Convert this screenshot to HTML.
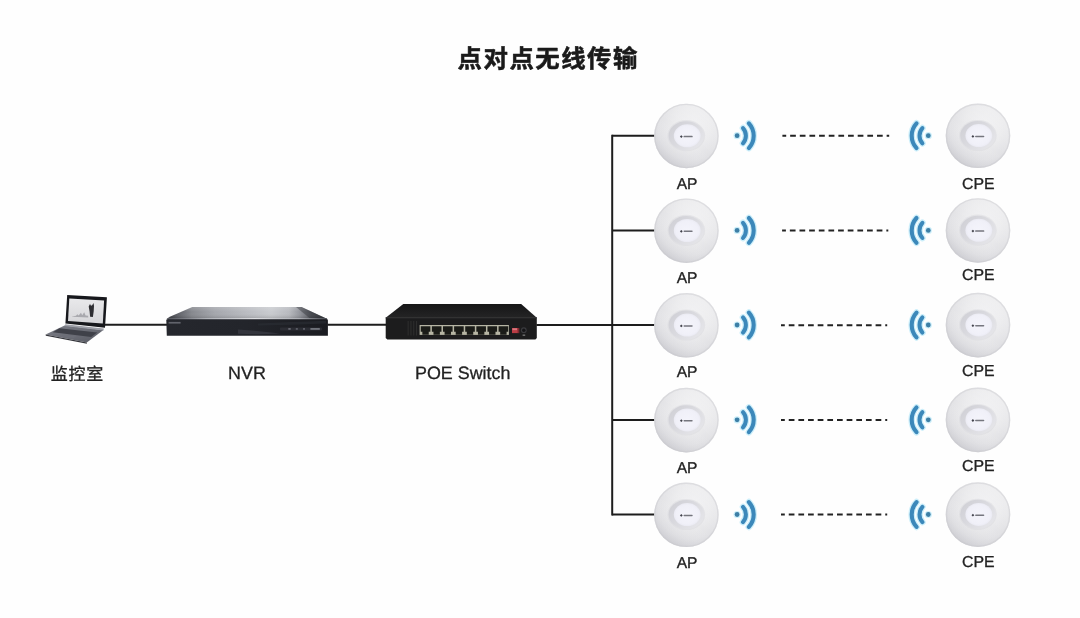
<!DOCTYPE html>
<html lang="zh-CN">
<head>
<meta charset="utf-8">
<title>点对点无线传输</title>
<style>
  html, body { margin: 0; padding: 0; background: #fefefe; }
  body { width: 1080px; height: 618px; overflow: hidden; position: relative;
         font-family: "Liberation Sans", "Noto Sans CJK SC", sans-serif; }
  svg { position: absolute; left: 0; top: 0; display: block; filter: blur(0.45px); }
  .t { font-family: "Liberation Sans", "Noto Sans CJK SC", sans-serif; fill: #222222; stroke: #222222; stroke-width: 0.3px; text-rendering: geometricPrecision; }
  .title { font-family: "Liberation Sans", "Noto Sans CJK SC", sans-serif; font-weight: 700; fill: #1a1a1a; stroke: #1a1a1a; stroke-width: 0.55px; stroke-linejoin: round; }
</style>
</head>
<body>
<svg width="1080" height="618" viewBox="0 0 1080 618">
  <defs>
    <radialGradient id="gDisc" cx="0.56" cy="0.38" r="0.66">
      <stop offset="0" stop-color="#f1f1f3"/>
      <stop offset="0.45" stop-color="#eaeaec"/>
      <stop offset="0.75" stop-color="#e2e2e5"/>
      <stop offset="0.92" stop-color="#d8d8dc"/>
      <stop offset="1" stop-color="#cdcdd2"/>
    </radialGradient>
    <linearGradient id="gDiscShade" x1="0.85" y1="0.1" x2="0.2" y2="0.95">
      <stop offset="0" stop-color="#ffffff" stop-opacity="0.3"/>
      <stop offset="0.5" stop-color="#ffffff" stop-opacity="0"/>
      <stop offset="1" stop-color="#b4b4bc" stop-opacity="0.3"/>
    </linearGradient>
    <linearGradient id="gRing" x1="0.05" y1="0.15" x2="0.95" y2="0.85">
      <stop offset="0" stop-color="#d0d0d6"/>
      <stop offset="0.5" stop-color="#dbdbe0"/>
      <stop offset="1" stop-color="#e6e6ea"/>
    </linearGradient>
    <radialGradient id="gCore" cx="0.5" cy="0.5" r="0.6">
      <stop offset="0" stop-color="#f4f4fb"/>
      <stop offset="0.7" stop-color="#f0f0f8"/>
      <stop offset="1" stop-color="#e3e3ec"/>
    </radialGradient>
    <linearGradient id="gNvrTop" gradientUnits="userSpaceOnUse" x1="166" y1="0" x2="328" y2="0">
      <stop offset="0" stop-color="#34363c"/>
      <stop offset="0.07" stop-color="#5c5e65"/>
      <stop offset="0.16" stop-color="#86888e"/>
      <stop offset="0.3" stop-color="#a4a6ac"/>
      <stop offset="0.5" stop-color="#babcc1"/>
      <stop offset="0.65" stop-color="#c9cbcf"/>
      <stop offset="0.76" stop-color="#b8babf"/>
      <stop offset="0.83" stop-color="#909299"/>
      <stop offset="0.9" stop-color="#585a61"/>
      <stop offset="1" stop-color="#2a2c32"/>
    </linearGradient>
    <linearGradient id="gNvrTopV" gradientUnits="userSpaceOnUse" x1="0" y1="307" x2="0" y2="318.5">
      <stop offset="0" stop-color="#ffffff" stop-opacity="0.16"/>
      <stop offset="0.45" stop-color="#ffffff" stop-opacity="0"/>
      <stop offset="1" stop-color="#000000" stop-opacity="0.16"/>
    </linearGradient>
    <linearGradient id="gNvrEdge" gradientUnits="userSpaceOnUse" x1="166" y1="0" x2="328" y2="0">
      <stop offset="0" stop-color="#50525a"/>
      <stop offset="0.25" stop-color="#b0b2b8"/>
      <stop offset="0.55" stop-color="#dcdde0"/>
      <stop offset="0.82" stop-color="#aeb0b6"/>
      <stop offset="1" stop-color="#44464d"/>
    </linearGradient>
    <linearGradient id="gNvrFront" x1="0" y1="0" x2="1" y2="0">
      <stop offset="0" stop-color="#25272d"/>
      <stop offset="0.5" stop-color="#23252b"/>
      <stop offset="1" stop-color="#1a1b20"/>
    </linearGradient>
    <linearGradient id="gSwTop" x1="0" y1="0" x2="0" y2="1">
      <stop offset="0" stop-color="#161617"/>
      <stop offset="1" stop-color="#242425"/>
    </linearGradient>
    <linearGradient id="gKb" x1="0" y1="0" x2="1" y2="1">
      <stop offset="0" stop-color="#7e8089"/>
      <stop offset="1" stop-color="#585a63"/>
    </linearGradient>
    <linearGradient id="gScreen" x1="0" y1="0" x2="0" y2="1">
      <stop offset="0" stop-color="#e9e9eb"/>
      <stop offset="1" stop-color="#d6d6d9"/>
    </linearGradient>
  </defs>

  <text class="title" x="457.6" y="67.4" font-size="24.4" letter-spacing="1.5">点对点无线传输</text>

  <g stroke="#1d1d1d" stroke-width="2" fill="none" stroke-linecap="butt">
    <path d="M104.6 324.8 H167"/>
    <path d="M327.4 324.8 H386.4"/>
    <path d="M536.4 325.1 H612.2"/>
    <path d="M612.2 134.8 V515.6"/>
    <path d="M612.2 135.8 H655"/>
    <path d="M612.2 230.5 H655"/>
    <path d="M612.2 325.1 H655"/>
    <path d="M612.2 419.9 H655"/>
    <path d="M612.2 514.6 H655"/>
  </g>
  <g stroke="#222222" stroke-width="2" fill="none" stroke-dasharray="5.7 3.95" stroke-dashoffset="1.9">
    <path d="M782.4 135.7 H889.2"/>
    <path d="M782.1 230.4 H888.3"/>
    <path d="M781.0 325.2 H887.2"/>
    <path d="M781.0 419.9 H887.2"/>
    <path d="M781.0 514.6 H887.2"/>
  </g>

  <g id="laptop">
    <!-- base -->
    <polygon points="64.6,325.4 103.4,330 86.8,342.5 45.6,334.6" fill="url(#gKb)"/>
    <polygon points="45.6,334.6 86.8,342.5 86.9,343.7 45.8,335.7" fill="#33343a"/>
    <polygon points="59.4,328.2 97.2,332.6 91.2,337 52.8,332.2" fill="#3f4149"/>
    <polygon points="63,334.6 76,336.2 73.6,338 60.4,336.3" fill="#6c6e77"/>
    <!-- lid -->
    <polygon points="67.2,295 106.9,297.2 105,327.8 65.4,323.6" fill="#17181c"/>
    <polygon points="69.3,298.5 104.1,300.4 102.8,323.4 68,320.9" fill="url(#gScreen)"/>
    <!-- hinge strip -->
    <polygon points="65.3,324.2 103.9,328.6 103.4,330.5 64.6,325.9" fill="#9d9fa7"/>
    <path d="M88.7 306.4 l1.3 -2.4 l1 1.8 l1.2 -0.6 l1.3 -2.2 l0.5 3 l-0.3 5.2 l-0.8 5.8 l-2.8 -0.2 l-0.5 -5.4 z" fill="#2e2e32"/>
    <path d="M72 316.4 l4 -0.6 l1.4 -1.6 l1.2 1.2 l2.4 -2.6 l1.2 2.4 l2 -3 l1.4 3.2 l2.6 0.4 v1.8 l-16.2 -0.9 z" fill="#a9a9ae"/>
  </g>

  <g id="nvr">
    <path d="M192.3 307 H301.6 L327.9 319.2 H166.3 Q168 317.6 171 316.2 Z" fill="url(#gNvrTop)"/>
    <path d="M192.3 307 H301.6 L327.9 319.2 H166.3 Q168 317.6 171 316.2 Z" fill="url(#gNvrTopV)"/>
    <polygon points="296,307 301.6,307 327.9,319.2 311,319.2" fill="#2b2d33" opacity="0.4"/>
    <path d="M166.3 320.6 Q166.3 319 168 319 H326.4 Q327.9 319 327.9 320.6 V335.8 H166.8 Z" fill="url(#gNvrFront)"/>
    <path d="M168 318.7 H326.6" stroke="url(#gNvrEdge)" stroke-width="1.3" fill="none"/>
    <path d="M238 329.4 Q262 331.2 280 333.6 Q258 334.8 238 333.8 Z" fill="#383a42" opacity="0.8"/>
    <path d="M258 323.4 Q290 322.2 326 320.8 V323.4 Q292 324.8 258 325.6 Z" fill="#2c2e35" opacity="0.6"/>
    <rect x="280" y="327.4" width="42" height="3.2" rx="1" fill="#2f3138" opacity="0.8"/>
    <rect x="288.3" y="328.4" width="2.4" height="1.1" fill="#8c8e97"/>
    <rect x="295.8" y="328.4" width="2" height="1.1" fill="#787a84"/>
    <rect x="303" y="328.4" width="2" height="1.1" fill="#787a84"/>
    <rect x="310.4" y="328.3" width="9.4" height="1.3" fill="#8e9099"/>
    <rect x="168.6" y="321.9" width="12" height="1.7" fill="#6c6e77" opacity="0.85"/>
  </g>

  <g id="switch">
    <polygon points="403.3,304.1 521.2,304.1 536.8,317.8 385.7,317.8" fill="url(#gSwTop)"/>
    <path d="M385.7 317.5 H536.8 V338 L535.4 339.4 H387.3 L385.7 338 Z" fill="#1c1c1d"/>
    <rect x="385.7" y="317.3" width="151.1" height="1.1" fill="#2f2f30"/>
    <rect x="419.6" y="325" width="89.3" height="9.9" fill="#b6b5a4"/>
    <path d="M420.75 326.3 h9.6 v5.4 h-1.6 v3 h-6.4 v-3 h-1.6 z" fill="#1b1c18"/><path d="M431.87 326.3 h9.6 v5.4 h-1.6 v3 h-6.4 v-3 h-1.6 z" fill="#1b1c18"/><path d="M442.99 326.3 h9.6 v5.4 h-1.6 v3 h-6.4 v-3 h-1.6 z" fill="#1b1c18"/><path d="M454.11 326.3 h9.6 v5.4 h-1.6 v3 h-6.4 v-3 h-1.6 z" fill="#1b1c18"/><path d="M465.23 326.3 h9.6 v5.4 h-1.6 v3 h-6.4 v-3 h-1.6 z" fill="#1b1c18"/><path d="M476.35 326.3 h9.6 v5.4 h-1.6 v3 h-6.4 v-3 h-1.6 z" fill="#1b1c18"/><path d="M487.47 326.3 h9.6 v5.4 h-1.6 v3 h-6.4 v-3 h-1.6 z" fill="#1b1c18"/><path d="M498.59 326.3 h9.6 v5.4 h-1.6 v3 h-6.4 v-3 h-1.6 z" fill="#1b1c18"/>
    <g fill="#2d2d2d">
      <rect x="407.6" y="321" width="1.1" height="14.5"/>
      <rect x="410.4" y="321" width="1.1" height="14.5"/>
      <rect x="413.2" y="321" width="1.1" height="14.5"/>
      <rect x="416" y="321" width="1.1" height="14.5"/>
    </g>
    <rect x="512" y="328" width="7.4" height="5.2" fill="#7e2a30"/>
    <rect x="512" y="328" width="5.6" height="5" fill="#bb3d45"/>
    <rect x="512.4" y="328.3" width="4.6" height="1.8" fill="#d9777e"/>
    <circle cx="523.8" cy="330.2" r="2.9" fill="#3a3a3e"/>
    <circle cx="523.8" cy="330.2" r="1.7" fill="#141416"/>
    <rect x="522.6" y="334.6" width="2.6" height="1.1" fill="#8c8c8c"/>
  </g>

  <text class="t" x="50.7" y="380.3" font-size="17" letter-spacing="0.75">监控室</text>
  <text class="t" x="228.1" y="378.8" font-size="17.9">NVR</text>
  <text class="t" x="415" y="378.8" font-size="17.9">POE Switch</text>

  <g transform="translate(686.4,136.0)">
    <circle r="32.3" fill="url(#gDisc)"/>
    <circle r="32.3" fill="url(#gDiscShade)"/>
    <circle r="31.6" fill="none" stroke="#c9c9ce" stroke-width="1.4" opacity="0.45"/>
    <ellipse cx="-0.1" cy="-0.3" rx="18.8" ry="15.6" fill="#dadade" opacity="0.55"/>
    <ellipse cx="-0.1" cy="-0.3" rx="17.7" ry="14.5" fill="url(#gRing)"/>
    <ellipse cx="0.8" cy="-0.2" rx="13.4" ry="11.5" fill="url(#gCore)"/>
    <path d="M-6.5 0.6 l1.4 -1.4 l1.4 1.4 l-1.4 1.4 z" fill="#2e2f37" opacity="0.9"/>
    <rect x="-2.9" y="-0.15" width="9.2" height="1.5" rx="0.7" fill="#3f4049" opacity="0.7"/>
  </g>
  <g transform="translate(737.1,135.70000000000002)" fill="none" stroke="#3c88ba" stroke-linecap="round">
    <g stroke="#c4ecf9" opacity="0.85">
      <circle r="3.6" fill="#c4ecf9" stroke="none"/>
      <path d="M5.88 -7.6 A 11.35 11.35 0 0 1 5.88 7.6" stroke-width="6.6"/>
      <path d="M11.78 -12.4 A 18.4 18.4 0 0 1 11.78 12.4" stroke-width="6.6"/>
    </g>
    <circle r="2.4" fill="#3d7fa6" stroke="none"/>
    <path d="M5.88 -7.6 A 11.35 11.35 0 0 1 5.88 7.6" stroke-width="4"/>
    <path d="M11.78 -12.4 A 18.4 18.4 0 0 1 11.78 12.4" stroke-width="4.1"/>
  </g>
  <g transform="translate(928.3,135.70000000000002) scale(-1,1)" fill="none" stroke="#3c88ba" stroke-linecap="round">
    <g stroke="#c4ecf9" opacity="0.85">
      <circle r="3.6" fill="#c4ecf9" stroke="none"/>
      <path d="M5.88 -7.6 A 11.35 11.35 0 0 1 5.88 7.6" stroke-width="6.6"/>
      <path d="M11.78 -12.4 A 18.4 18.4 0 0 1 11.78 12.4" stroke-width="6.6"/>
    </g>
    <circle r="2.4" fill="#3d7fa6" stroke="none"/>
    <path d="M5.88 -7.6 A 11.35 11.35 0 0 1 5.88 7.6" stroke-width="4"/>
    <path d="M11.78 -12.4 A 18.4 18.4 0 0 1 11.78 12.4" stroke-width="4.1"/>
  </g>
  <g transform="translate(978,135.8)">
    <circle r="32.3" fill="url(#gDisc)"/>
    <circle r="32.3" fill="url(#gDiscShade)"/>
    <circle r="31.6" fill="none" stroke="#c9c9ce" stroke-width="1.4" opacity="0.45"/>
    <ellipse cx="-0.1" cy="-0.3" rx="18.8" ry="15.6" fill="#dadade" opacity="0.55"/>
    <ellipse cx="-0.1" cy="-0.3" rx="17.7" ry="14.5" fill="url(#gRing)"/>
    <ellipse cx="0.8" cy="-0.2" rx="13.4" ry="11.5" fill="url(#gCore)"/>
    <path d="M-6.5 0.6 l1.4 -1.4 l1.4 1.4 l-1.4 1.4 z" fill="#2e2f37" opacity="0.9"/>
    <rect x="-2.9" y="-0.15" width="9.2" height="1.5" rx="0.7" fill="#3f4049" opacity="0.7"/>
  </g>
  <text class="t" x="676.7" y="189.2" font-size="15.6">AP</text>
  <text class="t" x="962.1" y="189.0" font-size="15.85">CPE</text>
  <g transform="translate(686.4,230.7)">
    <circle r="32.3" fill="url(#gDisc)"/>
    <circle r="32.3" fill="url(#gDiscShade)"/>
    <circle r="31.6" fill="none" stroke="#c9c9ce" stroke-width="1.4" opacity="0.45"/>
    <ellipse cx="-0.1" cy="-0.3" rx="18.8" ry="15.6" fill="#dadade" opacity="0.55"/>
    <ellipse cx="-0.1" cy="-0.3" rx="17.7" ry="14.5" fill="url(#gRing)"/>
    <ellipse cx="0.8" cy="-0.2" rx="13.4" ry="11.5" fill="url(#gCore)"/>
    <path d="M-6.5 0.6 l1.4 -1.4 l1.4 1.4 l-1.4 1.4 z" fill="#2e2f37" opacity="0.9"/>
    <rect x="-2.9" y="-0.15" width="9.2" height="1.5" rx="0.7" fill="#3f4049" opacity="0.7"/>
  </g>
  <g transform="translate(737.1,230.4)" fill="none" stroke="#3c88ba" stroke-linecap="round">
    <g stroke="#c4ecf9" opacity="0.85">
      <circle r="3.6" fill="#c4ecf9" stroke="none"/>
      <path d="M5.88 -7.6 A 11.35 11.35 0 0 1 5.88 7.6" stroke-width="6.6"/>
      <path d="M11.78 -12.4 A 18.4 18.4 0 0 1 11.78 12.4" stroke-width="6.6"/>
    </g>
    <circle r="2.4" fill="#3d7fa6" stroke="none"/>
    <path d="M5.88 -7.6 A 11.35 11.35 0 0 1 5.88 7.6" stroke-width="4"/>
    <path d="M11.78 -12.4 A 18.4 18.4 0 0 1 11.78 12.4" stroke-width="4.1"/>
  </g>
  <g transform="translate(928.3,230.4) scale(-1,1)" fill="none" stroke="#3c88ba" stroke-linecap="round">
    <g stroke="#c4ecf9" opacity="0.85">
      <circle r="3.6" fill="#c4ecf9" stroke="none"/>
      <path d="M5.88 -7.6 A 11.35 11.35 0 0 1 5.88 7.6" stroke-width="6.6"/>
      <path d="M11.78 -12.4 A 18.4 18.4 0 0 1 11.78 12.4" stroke-width="6.6"/>
    </g>
    <circle r="2.4" fill="#3d7fa6" stroke="none"/>
    <path d="M5.88 -7.6 A 11.35 11.35 0 0 1 5.88 7.6" stroke-width="4"/>
    <path d="M11.78 -12.4 A 18.4 18.4 0 0 1 11.78 12.4" stroke-width="4.1"/>
  </g>
  <g transform="translate(978,230.5)">
    <circle r="32.3" fill="url(#gDisc)"/>
    <circle r="32.3" fill="url(#gDiscShade)"/>
    <circle r="31.6" fill="none" stroke="#c9c9ce" stroke-width="1.4" opacity="0.45"/>
    <ellipse cx="-0.1" cy="-0.3" rx="18.8" ry="15.6" fill="#dadade" opacity="0.55"/>
    <ellipse cx="-0.1" cy="-0.3" rx="17.7" ry="14.5" fill="url(#gRing)"/>
    <ellipse cx="0.8" cy="-0.2" rx="13.4" ry="11.5" fill="url(#gCore)"/>
    <path d="M-6.5 0.6 l1.4 -1.4 l1.4 1.4 l-1.4 1.4 z" fill="#2e2f37" opacity="0.9"/>
    <rect x="-2.9" y="-0.15" width="9.2" height="1.5" rx="0.7" fill="#3f4049" opacity="0.7"/>
  </g>
  <text class="t" x="676.7" y="282.9" font-size="15.6">AP</text>
  <text class="t" x="962.1" y="279.5" font-size="15.85">CPE</text>
  <g transform="translate(686.4,325.3)">
    <circle r="32.3" fill="url(#gDisc)"/>
    <circle r="32.3" fill="url(#gDiscShade)"/>
    <circle r="31.6" fill="none" stroke="#c9c9ce" stroke-width="1.4" opacity="0.45"/>
    <ellipse cx="-0.1" cy="-0.3" rx="18.8" ry="15.6" fill="#dadade" opacity="0.55"/>
    <ellipse cx="-0.1" cy="-0.3" rx="17.7" ry="14.5" fill="url(#gRing)"/>
    <ellipse cx="0.8" cy="-0.2" rx="13.4" ry="11.5" fill="url(#gCore)"/>
    <path d="M-6.5 0.6 l1.4 -1.4 l1.4 1.4 l-1.4 1.4 z" fill="#2e2f37" opacity="0.9"/>
    <rect x="-2.9" y="-0.15" width="9.2" height="1.5" rx="0.7" fill="#3f4049" opacity="0.7"/>
  </g>
  <g transform="translate(737.1,325.0)" fill="none" stroke="#3c88ba" stroke-linecap="round">
    <g stroke="#c4ecf9" opacity="0.85">
      <circle r="3.6" fill="#c4ecf9" stroke="none"/>
      <path d="M5.88 -7.6 A 11.35 11.35 0 0 1 5.88 7.6" stroke-width="6.6"/>
      <path d="M11.78 -12.4 A 18.4 18.4 0 0 1 11.78 12.4" stroke-width="6.6"/>
    </g>
    <circle r="2.4" fill="#3d7fa6" stroke="none"/>
    <path d="M5.88 -7.6 A 11.35 11.35 0 0 1 5.88 7.6" stroke-width="4"/>
    <path d="M11.78 -12.4 A 18.4 18.4 0 0 1 11.78 12.4" stroke-width="4.1"/>
  </g>
  <g transform="translate(928.3,325.0) scale(-1,1)" fill="none" stroke="#3c88ba" stroke-linecap="round">
    <g stroke="#c4ecf9" opacity="0.85">
      <circle r="3.6" fill="#c4ecf9" stroke="none"/>
      <path d="M5.88 -7.6 A 11.35 11.35 0 0 1 5.88 7.6" stroke-width="6.6"/>
      <path d="M11.78 -12.4 A 18.4 18.4 0 0 1 11.78 12.4" stroke-width="6.6"/>
    </g>
    <circle r="2.4" fill="#3d7fa6" stroke="none"/>
    <path d="M5.88 -7.6 A 11.35 11.35 0 0 1 5.88 7.6" stroke-width="4"/>
    <path d="M11.78 -12.4 A 18.4 18.4 0 0 1 11.78 12.4" stroke-width="4.1"/>
  </g>
  <g transform="translate(978,325.1)">
    <circle r="32.3" fill="url(#gDisc)"/>
    <circle r="32.3" fill="url(#gDiscShade)"/>
    <circle r="31.6" fill="none" stroke="#c9c9ce" stroke-width="1.4" opacity="0.45"/>
    <ellipse cx="-0.1" cy="-0.3" rx="18.8" ry="15.6" fill="#dadade" opacity="0.55"/>
    <ellipse cx="-0.1" cy="-0.3" rx="17.7" ry="14.5" fill="url(#gRing)"/>
    <ellipse cx="0.8" cy="-0.2" rx="13.4" ry="11.5" fill="url(#gCore)"/>
    <path d="M-6.5 0.6 l1.4 -1.4 l1.4 1.4 l-1.4 1.4 z" fill="#2e2f37" opacity="0.9"/>
    <rect x="-2.9" y="-0.15" width="9.2" height="1.5" rx="0.7" fill="#3f4049" opacity="0.7"/>
  </g>
  <text class="t" x="676.7" y="377.3" font-size="15.6">AP</text>
  <text class="t" x="962.1" y="375.9" font-size="15.85">CPE</text>
  <g transform="translate(686.4,420.09999999999997)">
    <circle r="32.3" fill="url(#gDisc)"/>
    <circle r="32.3" fill="url(#gDiscShade)"/>
    <circle r="31.6" fill="none" stroke="#c9c9ce" stroke-width="1.4" opacity="0.45"/>
    <ellipse cx="-0.1" cy="-0.3" rx="18.8" ry="15.6" fill="#dadade" opacity="0.55"/>
    <ellipse cx="-0.1" cy="-0.3" rx="17.7" ry="14.5" fill="url(#gRing)"/>
    <ellipse cx="0.8" cy="-0.2" rx="13.4" ry="11.5" fill="url(#gCore)"/>
    <path d="M-6.5 0.6 l1.4 -1.4 l1.4 1.4 l-1.4 1.4 z" fill="#2e2f37" opacity="0.9"/>
    <rect x="-2.9" y="-0.15" width="9.2" height="1.5" rx="0.7" fill="#3f4049" opacity="0.7"/>
  </g>
  <g transform="translate(737.1,419.79999999999995)" fill="none" stroke="#3c88ba" stroke-linecap="round">
    <g stroke="#c4ecf9" opacity="0.85">
      <circle r="3.6" fill="#c4ecf9" stroke="none"/>
      <path d="M5.88 -7.6 A 11.35 11.35 0 0 1 5.88 7.6" stroke-width="6.6"/>
      <path d="M11.78 -12.4 A 18.4 18.4 0 0 1 11.78 12.4" stroke-width="6.6"/>
    </g>
    <circle r="2.4" fill="#3d7fa6" stroke="none"/>
    <path d="M5.88 -7.6 A 11.35 11.35 0 0 1 5.88 7.6" stroke-width="4"/>
    <path d="M11.78 -12.4 A 18.4 18.4 0 0 1 11.78 12.4" stroke-width="4.1"/>
  </g>
  <g transform="translate(928.3,419.79999999999995) scale(-1,1)" fill="none" stroke="#3c88ba" stroke-linecap="round">
    <g stroke="#c4ecf9" opacity="0.85">
      <circle r="3.6" fill="#c4ecf9" stroke="none"/>
      <path d="M5.88 -7.6 A 11.35 11.35 0 0 1 5.88 7.6" stroke-width="6.6"/>
      <path d="M11.78 -12.4 A 18.4 18.4 0 0 1 11.78 12.4" stroke-width="6.6"/>
    </g>
    <circle r="2.4" fill="#3d7fa6" stroke="none"/>
    <path d="M5.88 -7.6 A 11.35 11.35 0 0 1 5.88 7.6" stroke-width="4"/>
    <path d="M11.78 -12.4 A 18.4 18.4 0 0 1 11.78 12.4" stroke-width="4.1"/>
  </g>
  <g transform="translate(978,419.9)">
    <circle r="32.3" fill="url(#gDisc)"/>
    <circle r="32.3" fill="url(#gDiscShade)"/>
    <circle r="31.6" fill="none" stroke="#c9c9ce" stroke-width="1.4" opacity="0.45"/>
    <ellipse cx="-0.1" cy="-0.3" rx="18.8" ry="15.6" fill="#dadade" opacity="0.55"/>
    <ellipse cx="-0.1" cy="-0.3" rx="17.7" ry="14.5" fill="url(#gRing)"/>
    <ellipse cx="0.8" cy="-0.2" rx="13.4" ry="11.5" fill="url(#gCore)"/>
    <path d="M-6.5 0.6 l1.4 -1.4 l1.4 1.4 l-1.4 1.4 z" fill="#2e2f37" opacity="0.9"/>
    <rect x="-2.9" y="-0.15" width="9.2" height="1.5" rx="0.7" fill="#3f4049" opacity="0.7"/>
  </g>
  <text class="t" x="676.7" y="472.6" font-size="15.6">AP</text>
  <text class="t" x="962.1" y="470.6" font-size="15.85">CPE</text>
  <g transform="translate(686.4,514.8000000000001)">
    <circle r="32.3" fill="url(#gDisc)"/>
    <circle r="32.3" fill="url(#gDiscShade)"/>
    <circle r="31.6" fill="none" stroke="#c9c9ce" stroke-width="1.4" opacity="0.45"/>
    <ellipse cx="-0.1" cy="-0.3" rx="18.8" ry="15.6" fill="#dadade" opacity="0.55"/>
    <ellipse cx="-0.1" cy="-0.3" rx="17.7" ry="14.5" fill="url(#gRing)"/>
    <ellipse cx="0.8" cy="-0.2" rx="13.4" ry="11.5" fill="url(#gCore)"/>
    <path d="M-6.5 0.6 l1.4 -1.4 l1.4 1.4 l-1.4 1.4 z" fill="#2e2f37" opacity="0.9"/>
    <rect x="-2.9" y="-0.15" width="9.2" height="1.5" rx="0.7" fill="#3f4049" opacity="0.7"/>
  </g>
  <g transform="translate(737.1,514.5)" fill="none" stroke="#3c88ba" stroke-linecap="round">
    <g stroke="#c4ecf9" opacity="0.85">
      <circle r="3.6" fill="#c4ecf9" stroke="none"/>
      <path d="M5.88 -7.6 A 11.35 11.35 0 0 1 5.88 7.6" stroke-width="6.6"/>
      <path d="M11.78 -12.4 A 18.4 18.4 0 0 1 11.78 12.4" stroke-width="6.6"/>
    </g>
    <circle r="2.4" fill="#3d7fa6" stroke="none"/>
    <path d="M5.88 -7.6 A 11.35 11.35 0 0 1 5.88 7.6" stroke-width="4"/>
    <path d="M11.78 -12.4 A 18.4 18.4 0 0 1 11.78 12.4" stroke-width="4.1"/>
  </g>
  <g transform="translate(928.3,514.5) scale(-1,1)" fill="none" stroke="#3c88ba" stroke-linecap="round">
    <g stroke="#c4ecf9" opacity="0.85">
      <circle r="3.6" fill="#c4ecf9" stroke="none"/>
      <path d="M5.88 -7.6 A 11.35 11.35 0 0 1 5.88 7.6" stroke-width="6.6"/>
      <path d="M11.78 -12.4 A 18.4 18.4 0 0 1 11.78 12.4" stroke-width="6.6"/>
    </g>
    <circle r="2.4" fill="#3d7fa6" stroke="none"/>
    <path d="M5.88 -7.6 A 11.35 11.35 0 0 1 5.88 7.6" stroke-width="4"/>
    <path d="M11.78 -12.4 A 18.4 18.4 0 0 1 11.78 12.4" stroke-width="4.1"/>
  </g>
  <g transform="translate(978,514.6)">
    <circle r="32.3" fill="url(#gDisc)"/>
    <circle r="32.3" fill="url(#gDiscShade)"/>
    <circle r="31.6" fill="none" stroke="#c9c9ce" stroke-width="1.4" opacity="0.45"/>
    <ellipse cx="-0.1" cy="-0.3" rx="18.8" ry="15.6" fill="#dadade" opacity="0.55"/>
    <ellipse cx="-0.1" cy="-0.3" rx="17.7" ry="14.5" fill="url(#gRing)"/>
    <ellipse cx="0.8" cy="-0.2" rx="13.4" ry="11.5" fill="url(#gCore)"/>
    <path d="M-6.5 0.6 l1.4 -1.4 l1.4 1.4 l-1.4 1.4 z" fill="#2e2f37" opacity="0.9"/>
    <rect x="-2.9" y="-0.15" width="9.2" height="1.5" rx="0.7" fill="#3f4049" opacity="0.7"/>
  </g>
  <text class="t" x="676.7" y="567.6" font-size="15.6">AP</text>
  <text class="t" x="962.1" y="566.5" font-size="15.85">CPE</text>
</svg>
</body>
</html>
